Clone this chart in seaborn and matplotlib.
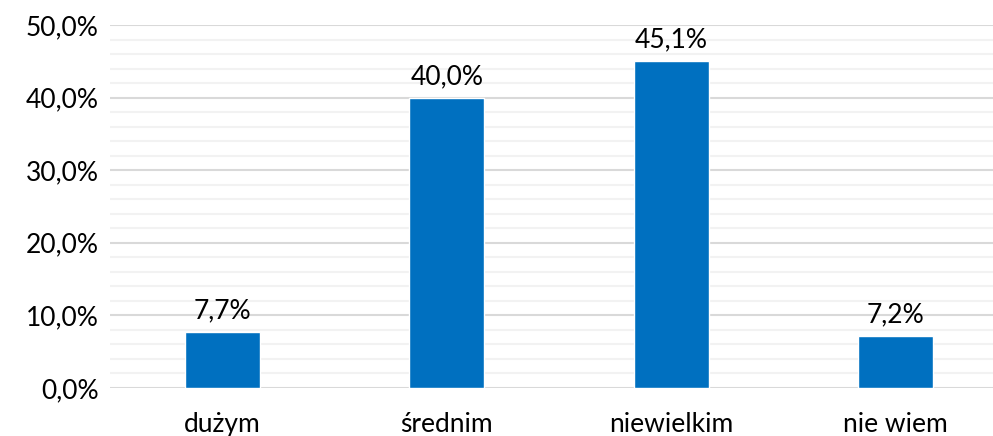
import matplotlib
matplotlib.use("Agg")
import matplotlib.pyplot as plt
import seaborn as sns
import pandas as pd
from matplotlib.ticker import MultipleLocator, FuncFormatter

categories = ["dużym", "średnim", "niewielkim", "nie wiem"]
values = [7.7, 40.0, 45.1, 7.2]
value_labels = ["7,7%", "40,0%", "45,1%", "7,2%"]

df = pd.DataFrame({"kategoria": categories, "procent": values})

sns.set_theme(style="white")
plt.rcParams["font.family"] = ["Lato", "DejaVu Sans"]

fig = plt.figure(figsize=(9.93, 4.36), dpi=100)
ax = fig.add_axes([110 / 993, 48 / 436, 898 / 993, 363 / 436])

sns.barplot(data=df, x="kategoria", y="procent", color="#0070C0",
            width=0.334, saturation=1, ax=ax, zorder=3)

ax.set_ylim(0, 50)
ax.set_xlim(-0.5, 3.5)
ax.yaxis.set_major_locator(MultipleLocator(10))
ax.yaxis.set_minor_locator(MultipleLocator(2))
ax.yaxis.set_major_formatter(FuncFormatter(lambda v, p: f"{v:.1f}%".replace(".", ",")))
ax.grid(axis="y", which="major", color="#d9d9d9", linewidth=1.5, zorder=0)
ax.grid(axis="y", which="minor", color="#f2f2f2", linewidth=1.5, zorder=0)
ax.set_axisbelow(True)
for s in ax.spines.values():
    s.set_visible(False)
ax.tick_params(axis="both", which="both", length=0, labelsize=19, colors="#000000")
ax.tick_params(axis="y", pad=8)
ax.tick_params(axis="x", pad=17)
ax.set_xlabel("")
ax.set_ylabel("")

for i, (v, lab) in enumerate(zip(values, value_labels)):
    ax.text(i, v + 1.2, lab, ha="center", va="bottom", fontsize=19, color="#000000")

fig.savefig("out.png", dpi=100)
